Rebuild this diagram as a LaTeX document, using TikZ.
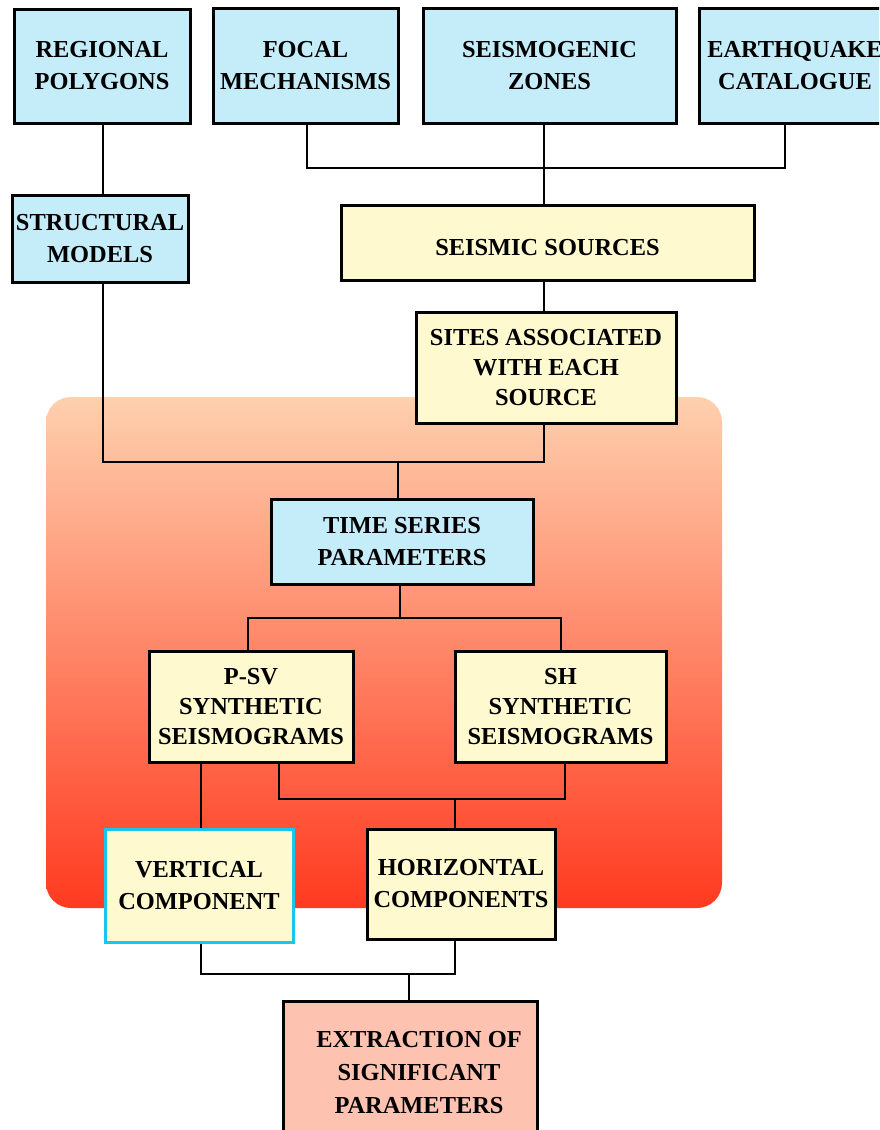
\documentclass[tikz,border=0pt]{standalone}
\usepackage{fontspec}
\setmainfont{Liberation Serif}
\definecolor{boxblue}{HTML}{C5ECF9}
\definecolor{boxyellow}{HTML}{FEF9CE}
\definecolor{boxsalmon}{HTML}{FEC3B0}
\definecolor{rimcyan}{HTML}{19C6EE}
\definecolor{panetop}{HTML}{FED0AE}
\definecolor{panemid}{HTML}{FFA888}
\definecolor{panebot}{HTML}{FF3A20}
\tikzset{
  basebox/.style={draw=black, line width=3pt, rectangle, align=center, inner sep=0pt,
    font=\fontsize{24.4}{32}\selectfont\bfseries,
    execute at begin node={\rule{0pt}{27pt}}},
  bluebox/.style={basebox, fill=boxblue},
  yellowbox/.style={basebox, fill=boxyellow},
  salmonbox/.style={basebox, fill=boxsalmon},
  tight/.style={font=\fontsize{24.4}{30}\selectfont\bfseries},
  wire/.style={draw=black, line width=1.5pt},
}
\begin{document}
\begin{tikzpicture}[x=1pt, y=-1pt]
\useasboundingbox (0,0) rectangle (879,1130);
\clip (0,0) rectangle (879,1130);

% shaded panel behind the synthesis stage
\shade[top color=panetop, middle color=panemid, bottom color=panebot, rounded corners=25pt]
  (46,397) rectangle (722,908);

% data inputs
\node[bluebox, minimum width=176, minimum height=114] (rp) at (102,66) {REGIONAL\\POLYGONS};
\node[bluebox, minimum width=185, minimum height=115] (fm) at (305.5,65.5) {FOCAL\\MECHANISMS};
\node[bluebox, minimum width=253, minimum height=115] (sz) at (549.5,65.5) {SEISMOGENIC\\ZONES};
\node[bluebox, minimum width=192, minimum height=115] (ec) at (795,65.5) {EARTHQUAKE\\CATALOGUE};
\node[bluebox, minimum width=176, minimum height=87] (sm) at (100,238.5) {STRUCTURAL\\MODELS};
\node[yellowbox, minimum width=413, minimum height=75] (ss) at (547.5,242.5) {SEISMIC SOURCES};
\node[yellowbox, tight, minimum width=260, minimum height=111] (sa) at (546,367.5) {SITES ASSOCIATED\\WITH EACH\\SOURCE};

% synthesis stage
\node[bluebox, minimum width=262, minimum height=85] (ts) at (402,541.5) {TIME SERIES\\PARAMETERS};
\node[yellowbox, tight, minimum width=204, minimum height=111] (psv) at (251,706.5) {P-SV\\SYNTHETIC\\SEISMOGRAMS};
\node[yellowbox, tight, minimum width=211, minimum height=111] (sh) at (560.5,706.5) {SH\\SYNTHETIC\\SEISMOGRAMS};
\node[yellowbox, draw=rimcyan, minimum width=188, minimum height=113] (vc) at (199,885.5) {VERTICAL\\COMPONENT};
\node[yellowbox, minimum width=188, minimum height=110] (hc) at (461,884) {HORIZONTAL\\COMPONENTS};
\node[salmonbox, font=\fontsize{24.4}{33}\selectfont\bfseries, minimum width=254, minimum height=144] (ex) at (410,1073) {\hspace*{18pt}EXTRACTION OF\\\hspace*{18pt}SIGNIFICANT\\\hspace*{18pt}PARAMETERS};

% junction points
\coordinate (j1) at (544,168);
\coordinate (j2) at (398,462);
\coordinate (j3) at (400,618);
\coordinate (j4) at (455,799);
\coordinate (j5) at (409,974);

% connectors
\draw[wire] ([xshift=1]rp.south) -- ([xshift=3]sm.north);
\draw[wire] ([xshift=1.5]fm.south) |- (j1) -| ([xshift=-10]ec.south);
\draw[wire] ([xshift=-5.5]sz.south) -- ([xshift=-3.5]ss.north);
\draw[wire] ([xshift=-3.5]ss.south) -- ([xshift=-2]sa.north);
\draw[wire] ([xshift=3]sm.south) |- (j2) -| ([xshift=-2]sa.south);
\draw[wire] (j2) -- ([xshift=-4]ts.north);
\draw[wire] ([xshift=-2]ts.south) -- (j3);
\draw[wire] ([xshift=-3]psv.north) |- (j3) -| ([xshift=0.5]sh.north);
\draw[wire] ([xshift=-50]psv.south) -- ([xshift=2]vc.north);
\draw[wire] ([xshift=28]psv.south) |- (j4) -| ([xshift=4.5]sh.south);
\draw[wire] (j4) -- ([xshift=-6]hc.north);
\draw[wire] ([xshift=2]vc.south) |- (j5) -| ([xshift=-6]hc.south);
\draw[wire] (j5) -- ([xshift=-1]ex.north);
\end{tikzpicture}
\end{document}
